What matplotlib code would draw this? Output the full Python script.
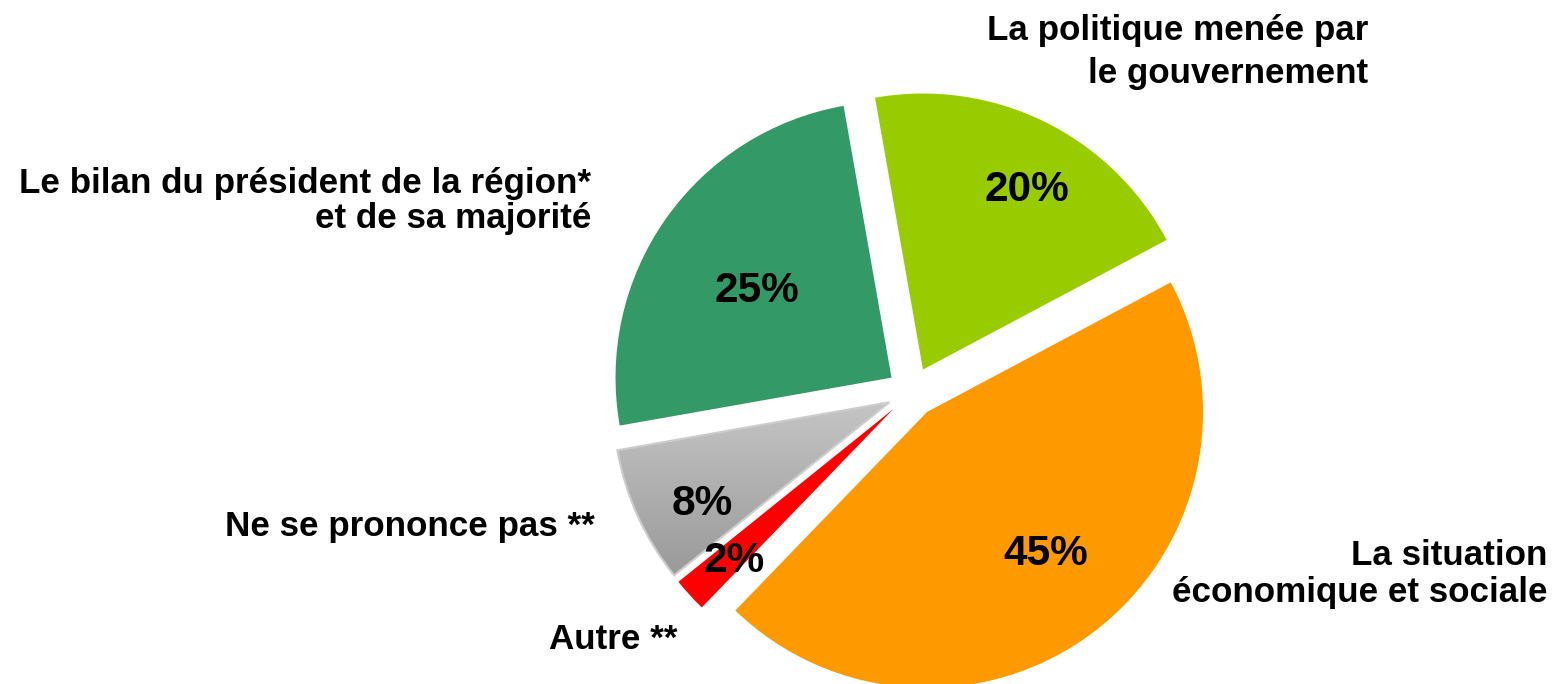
import numpy as np
import matplotlib
matplotlib.use("Agg")
import matplotlib.pyplot as plt
from matplotlib.colors import LinearSegmentedColormap

# ---- data ----
categories = ["La politique menée par\nle gouvernement",
              "La situation\néconomique et sociale",
              "Autre **",
              "Ne se prononce pas **",
              "Le bilan du président de la région*\net de sa majorité"]
values = [20, 45, 2, 8, 25]
pct_labels = ["20%", "45%", "2%", "8%", "25%"]

# ---- style ----
colors = ["#99CC00", "#FF9900", "#FF0000", "#B0B0B0", "#339966"]
W, H = 1553, 684
center = (912, H - 392)
radius = 276
explode = [25] * 5
startangle = 100
# percent label placement (fraction of radius, angular tweak in degrees)
pct_r = [0.766, 0.658, 0.788, 0.763, 0.59]
pct_dth = [-3.3, 3.7, 0.4, 3.1, 0.9]
# outside labels: right edge x, baselines (image px), per line
cat_pos = [(1368, [40, 83]),
           (1547, [565, 602]),
           (677, [649]),
           (595, [536]),
           (591, [193, 228])]

FONT = ["Liberation Sans", "DejaVu Sans"]
plt.rcParams["font.family"] = FONT

fig = plt.figure(figsize=(W / 100, H / 100), dpi=100)
ax = fig.add_axes([0, 0, 1, 1])

wedges, _ = ax.pie(values, colors=colors, explode=explode, startangle=startangle,
                   counterclock=False, radius=radius, center=center,
                   wedgeprops=dict(linewidth=0, antialiased=True))
ax.set_xlim(0, W)
ax.set_ylim(0, H)
ax.set_aspect("equal")
ax.axis("off")

# grey gradient for "Ne se prononce pas"
gw = wedges[3]
gw.set_facecolor("none")
gw.set_edgecolor("#cccccc")
gw.set_linewidth(1.5)
cmap = LinearSegmentedColormap.from_list("g", ["#c6c6c6", "#989898"])
grad = np.linspace(0, 1, 256).reshape(-1, 1)
cx, cy = gw.center
ext = (cx - radius - 5, cx + 5, cy - radius * 0.65, cy + 5)
im = ax.imshow(grad, cmap=cmap, extent=ext, aspect="auto", origin="upper", zorder=0.9)
im.set_clip_path(gw)
gw.set_zorder(1.1)
ax.set_xlim(0, W)
ax.set_ylim(0, H)

# percent labels
for w, lab, fr, dth in zip(wedges, pct_labels, pct_r, pct_dth):
    cx, cy = w.center
    th = np.deg2rad((w.theta1 + w.theta2) / 2 + dth)
    ax.text(cx + fr * radius * np.cos(th), cy + fr * radius * np.sin(th), lab,
            ha="center", va="center_baseline", fontsize=30.5, fontweight="bold",
            color="black", zorder=5)

# category labels
for cat, (xr, bls) in zip(categories, cat_pos):
    for line, bl in zip(cat.split("\n"), bls):
        ax.text(xr, H - bl, line, ha="right", va="baseline", fontsize=25.2,
                fontweight="bold", color="black", zorder=5)

fig.savefig("out.png", dpi=100)
